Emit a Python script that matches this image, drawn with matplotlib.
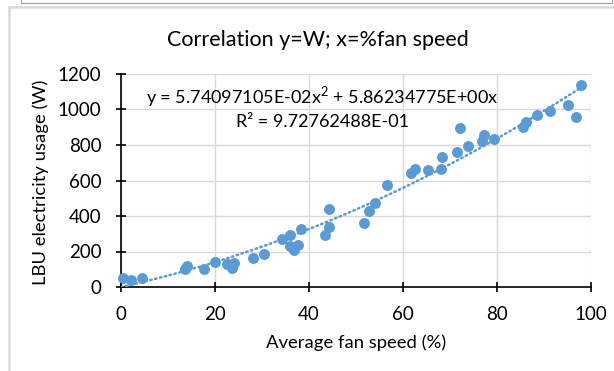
import matplotlib
matplotlib.use("Agg")
import matplotlib.pyplot as plt
import numpy as np
from matplotlib.lines import Line2D

fan_speed = [0.4, 2.1, 4.5, 13.7, 14.0, 17.7, 20.0, 22.5, 23.6, 24.0, 28.0, 30.4,
             34.3, 36.0, 36.0, 36.8, 37.6, 38.3, 43.4, 44.3, 44.3, 51.7, 52.8, 54.0,
             56.6, 61.6, 62.5, 65.4, 68.0, 68.2, 71.4, 72.2, 73.8, 76.9, 77.2, 79.4,
             85.5, 86.2, 88.6, 91.3, 95.2, 96.9, 97.8]
power_w = [49, 38, 49, 100, 120, 101, 143, 130, 107, 133, 165, 188,
           270, 295, 233, 208, 235, 327, 295, 336, 439, 360, 428, 473,
           575, 644, 667, 659, 665, 731, 762, 894, 794, 824, 858, 834,
           901, 928, 969, 993, 1024, 958, 1136]
coef_a = 5.74097105e-02
coef_b = 5.86234775e+00
eq_text = "y = 5.74097105E-02x$^{2}$ + 5.86234775E+00x"
r2_text = "R² = 9.72762488E-01"
x_ticks = [0, 20, 40, 60, 80, 100]
y_ticks = [0, 200, 400, 600, 800, 1000, 1200]

plt.rcParams['font.family'] = ['Lato', 'DejaVu Sans']
plt.rcParams['mathtext.fontset'] = 'custom'
plt.rcParams['mathtext.rm'] = 'Lato'

W, H = 614, 371
fig = plt.figure(figsize=(W/100, H/100), dpi=100)
fig.patch.set_facecolor('white')

# chart-area borders
fig.add_artist(Line2D([8.5/W, 8.5/W], [0, 1-6.5/H], transform=fig.transFigure, color='#d9d9d9', lw=1.8))
fig.add_artist(Line2D([8.5/W, 1], [1-6.5/H, 1-6.5/H], transform=fig.transFigure, color='#d9d9d9', lw=1.8))
# box above
fig.add_artist(Line2D([20.5/W, 20.5/W, 611.5/W, 611.5/W], [1, 1-3/H, 1-3/H, 1], transform=fig.transFigure, color='#a6a6a6', lw=0.9))

ax = fig.add_axes([121/W, 1-287/H, (591-121)/W, (287-74)/H])
ax.set_xlim(0, 100)
ax.set_ylim(0, 1200)
ax.set_xticks(x_ticks)
ax.set_yticks(y_ticks)
ax.grid(True, color='#d9d9d9', lw=1.0)
ax.set_axisbelow(True)
for s in ['top', 'right']:
    ax.spines[s].set_visible(False)
for s in ['left', 'bottom']:
    ax.spines[s].set_color('black')
    ax.spines[s].set_linewidth(1.2)
    ax.spines[s].set_zorder(1)
ax.tick_params(direction='inout', length=7, width=1.2, labelsize=13.5, colors='black', pad=10.5)

xs = np.linspace(0, max(fan_speed), 200)
ax.plot(xs, coef_a*xs**2 + coef_b*xs, color='#5b9bd5', lw=1.8, ls=(0, (0.6, 1.4)),
        dash_capstyle='round', zorder=2)
ax.scatter(fan_speed, power_w, s=62, color='#5b9bd5', zorder=3, linewidths=0, clip_on=False)

ax.set_xlabel("Average fan speed (%)", fontsize=13.3, va='center')
ax.set_ylabel("LBU electricity usage (W)", fontsize=13.3, va='center')
ax.xaxis.set_label_coords((356-121)/470, (287-343)/213)
ax.yaxis.set_label_coords((41-121)/470, (287-182)/213)

fig.text(318/W, 1-40/H, "Correlation y=W; x=%fan speed", fontsize=15.5, ha='center', va='center')
fig.text(322/W, 1-97/H, eq_text, fontsize=13, ha='center', va='center')
fig.text(322/W, 1-122/H, r2_text, fontsize=13, ha='center', va='center')

fig.savefig("out.png", dpi=100)
